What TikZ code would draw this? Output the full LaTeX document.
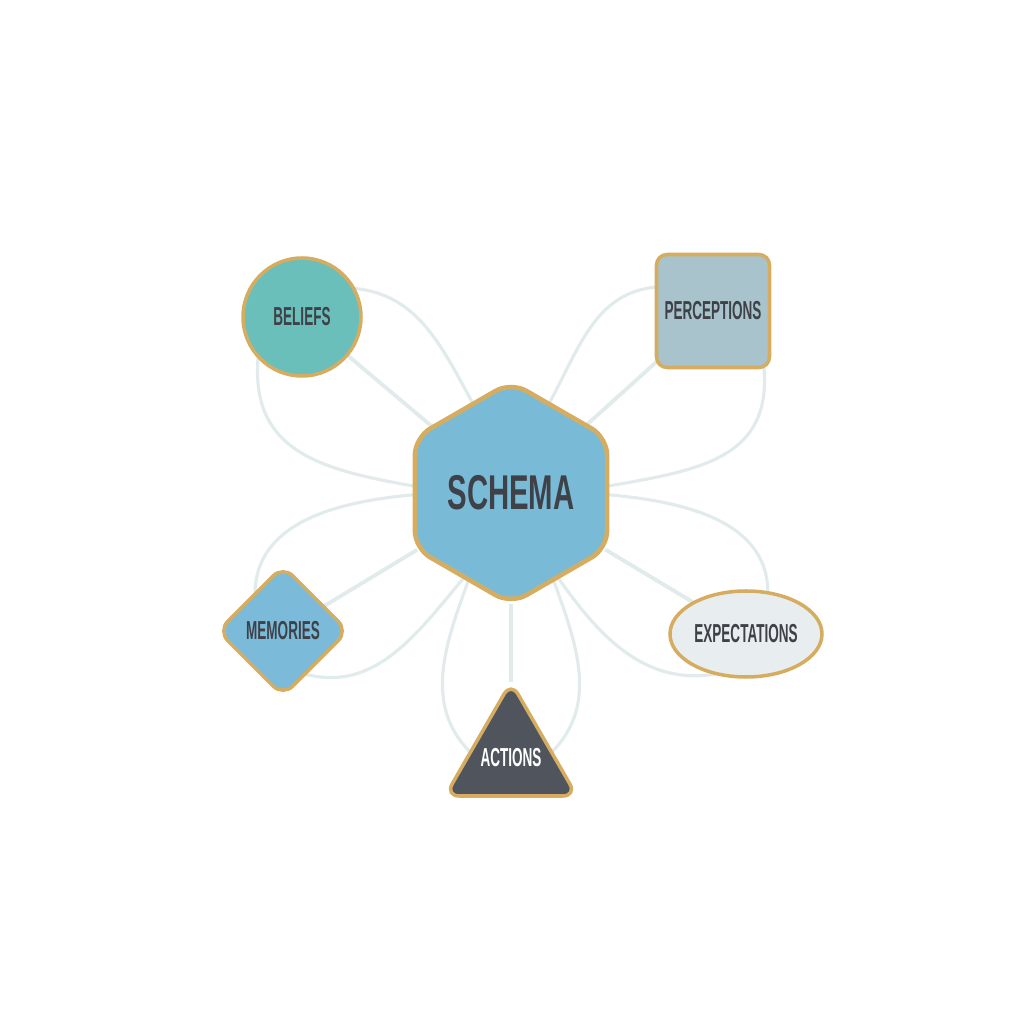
\documentclass[tikz,border=0pt]{standalone}
\usepackage{fontspec}
\setmainfont{Liberation Sans}[FakeStretch=0.52]
\newfontfamily\hubfont{Liberation Sans}[FakeStretch=0.6]
\usetikzlibrary{arrows.meta, positioning, calc, shapes.geometric, backgrounds}

\definecolor{gold}{HTML}{D6AD60}
\definecolor{textdark}{HTML}{3E4147}
\definecolor{linegray}{HTML}{E2EBEB}
\definecolor{schemablue}{HTML}{79BBD7}
\definecolor{beliefteal}{HTML}{6BBFBA}
\definecolor{percgray}{HTML}{A8C3CB}
\definecolor{memblue}{HTML}{7BBBD9}
\definecolor{expgray}{HTML}{E8EEF0}
\definecolor{actdark}{HTML}{50555D}

\begin{document}
\begin{tikzpicture}[thick, on grid, font=\bfseries\fontsize{7.4}{8}\selectfont, text=textdark]
	\useasboundingbox (0,0) rectangle (10.24,10.24);

	% Define styles
	\tikzstyle{base} = [draw=gold, line width=1pt, inner sep=0pt, outer sep=0pt, text centered]
	\tikzstyle{hub} = [base, regular polygon, regular polygon sides=6, shape border rotate=30, minimum size=2.22cm, rounded corners=5pt, fill=schemablue, line width=1.3pt, font=\hubfont\bfseries\fontsize{13.9}{16}\selectfont]
	\tikzstyle{belief} = [base, circle, minimum size=1.18cm, fill=beliefteal]
	\tikzstyle{perception} = [base, rectangle, minimum width=1.13cm, minimum height=1.13cm, rounded corners=3pt, fill=percgray]
	\tikzstyle{memory} = [base, diamond, aspect=1, minimum width=1.3cm, minimum height=1.3cm, rounded corners=4pt, fill=memblue]
	\tikzstyle{expectation} = [base, ellipse, minimum width=1.52cm, minimum height=0.86cm, fill=expgray]
	\tikzstyle{action} = [base, regular polygon, regular polygon sides=3, minimum size=1.52cm, rounded corners=4pt, fill=actdark, text=white]
	\tikzstyle{spoke} = [draw=linegray, line width=1.1pt]
	\tikzstyle{petal} = [draw=linegray, line width=0.9pt]

	% Nodes
	\node[hub] (schema) at (5.11,5.31) {SCHEMA};
	\node[belief, above left=1.76cm and 2.09cm of schema] (beliefs) {BELIEFS};
	\node[perception, above right=1.82cm and 2.02cm of schema] (perceptions) {PERCEPTIONS};
	\node[memory, below left=1.38cm and 2.28cm of schema] (memories) {MEMORIES};
	\node[expectation, below right=1.41cm and 2.35cm of schema] (expectations) {EXPECTATIONS};
	\node[action, below=2.65cm of schema] (actions) {\makebox[0pt]{ACTIONS}};

	% Connectors
	\begin{scope}[on background layer]
		\draw[spoke] (schema) -- (beliefs);
		\draw[spoke] (schema) -- (perceptions);
		\draw[spoke] (schema) -- (memories);
		\draw[spoke] (schema) -- (expectations);
		\draw[spoke] (schema) -- (actions);

		\draw[petal] (beliefs.29) to[out=-5, in=119] (schema.113);
		\draw[petal] (beliefs.222) to[out=265, in=170, looseness=1.2] (schema.176);
		\draw[petal] (perceptions.157) to[out=185, in=61] (schema.67);
		\draw[petal] (perceptions.312) to[out=275, in=10, looseness=1.2] (schema.4);
		\draw[petal] (schema.181) to[out=185, in=90] (memories.127);
		\draw[petal] (memories.297) to[out=-15, in=230] (schema.241);
		\draw[petal] (schema.244) to[out=250, in=135] (actions.172);
		\draw[petal] (schema.296) to[out=290, in=45] (actions.8);
		\draw[petal] (schema.359) to[out=-5, in=90] (expectations.62);
		\draw[petal] (schema.299) to[out=-55, in=190] (expectations.234);
	\end{scope}

\end{tikzpicture}
\end{document}
